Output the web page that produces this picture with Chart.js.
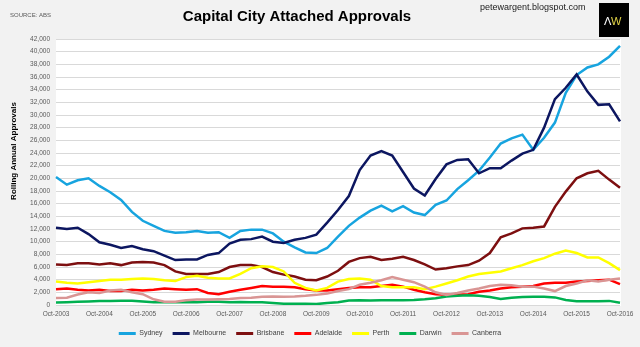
<!DOCTYPE html>
<html>
<head>
<meta charset="utf-8">
<script src="https://cdn.jsdelivr.net/npm/chart.js@4"></script>
<style>
  html, body { margin: 0; padding: 0; background: #f2f2f2; }
  #wrap { width: 640px; height: 347px; }
</style>
</head>
<body>
<div id="wrap"><canvas id="chart" width="640" height="347"></canvas></div>
<script>
// Quarterly readings, Oct-2003 to Oct-2016
const months = ['Oct', 'Jan', 'Apr', 'Jul'];
const labels = [];
for (let i = 0; i <= 52; i++) {
    const year = 2003 + Math.floor((i + 3) / 4);
    labels.push(months[i % 4] + '-' + year);
}

const sydney = [20200, 19000, 19700, 20000, 18800, 17800, 16600, 14700, 13300, 12500,
    11700, 11400, 11500, 11700, 11400, 11500, 10600, 11700, 11900, 11900,
    11300, 10000, 9100, 8300, 8200, 9000, 10800, 12500, 13800, 14900,
    15700, 14800, 15600, 14600, 14200, 15800, 16500, 18300, 19700, 21200,
    23300, 25500, 26300, 26900, 24500, 26400, 28800, 33500, 36300, 37500,
    38000, 39200, 40900];
const melbourne = [12200, 12000, 12200, 11200, 9900, 9500, 9000, 9300, 8800, 8500,
    7800, 7100, 7200, 7200, 7900, 8200, 9700, 10300, 10400, 10800,
    10000, 9800, 10300, 10600, 11100, 13000, 15000, 17200, 21300, 23600,
    24300, 23600, 21000, 18400, 17300, 19900, 22200, 22900, 23000, 20800,
    21600, 21600, 22800, 23900, 24500, 28000, 32500, 34300, 36400, 33700,
    31600, 31700, 29000];
const brisbane = [6400, 6300, 6600, 6600, 6400, 6600, 6300, 6700, 6800, 6700,
    6300, 5300, 4900, 4900, 4900, 5200, 6000, 6300, 6300, 6000,
    5200, 4800, 4500, 4000, 3900, 4500, 5400, 6800, 7400, 7600,
    7100, 7300, 7600, 7100, 6400, 5600, 5800, 6100, 6300, 7000,
    8200, 10700, 11300, 12100, 12200, 12400, 15500, 17900, 20000, 20800,
    21200, 19800, 18500];
const adelaide = [2500, 2600, 2400, 2300, 2400, 2200, 2200, 2400, 2300, 2400,
    2600, 2500, 2400, 2500, 1900, 1700, 2100, 2400, 2700, 3000,
    2900, 2900, 2800, 2500, 2300, 2300, 2500, 2700, 2800, 2800,
    3000, 3200, 2900, 2400, 2000, 1700, 1600, 1600, 1700, 2100,
    2300, 2600, 2800, 2900, 3000, 3400, 3500, 3500, 3700, 3800,
    3900, 4000, 3300];
const perth = [3700, 3500, 3400, 3600, 3800, 4000, 4000, 4100, 4200, 4100,
    3900, 3800, 4400, 4600, 4300, 4200, 4200, 4900, 5800, 6100,
    6000, 5300, 3500, 2700, 2300, 2700, 3700, 4100, 4200, 4000,
    3000, 2800, 2800, 2800, 2500, 2900, 3400, 3900, 4500, 4900,
    5100, 5300, 5800, 6300, 6900, 7400, 8100, 8600, 8200, 7500,
    7500, 6600, 5500];
const darwin = [400, 450, 500, 550, 620, 650, 680, 680, 550, 450,
    450, 450, 450, 450, 500, 500, 450, 480, 450, 420,
    300, 200, 200, 180, 150, 300, 450, 700, 750, 700,
    750, 750, 750, 800, 900, 1050, 1350, 1450, 1550, 1450,
    1250, 950, 1150, 1250, 1300, 1300, 1200, 800, 600, 600,
    600, 650, 350];
const canberra = [1100, 1150, 1650, 2000, 1900, 2300, 2400, 2000, 1700, 900,
    500, 500, 750, 850, 850, 900, 950, 1100, 1150, 1300,
    1350, 1300, 1350, 1450, 1600, 1800, 2200, 2500, 3200, 3500,
    3900, 4400, 4000, 3600, 2900, 2000, 1600, 1900, 2300, 2600,
    3000, 3200, 3100, 2900, 2900, 2600, 2200, 3000, 3400, 3900,
    3700, 4000, 4200];

const seriesNames = ['Sydney', 'Melbourne', 'Brisbane', 'Adelaide', 'Perth', 'Darwin', 'Canberra'];
const seriesData = [sydney, melbourne, brisbane, adelaide, perth, darwin, canberra];
const seriesColors = ['#17a4df', '#0c1660', '#7d0f10', '#ff0000', '#ffff00', '#00b050', '#d99594'];

const FONT = '"Liberation Sans", Arial, sans-serif';

// Fond gris, zone de tracé blanche, titres et logo
const decorations = {
    id: 'decorations',
    beforeDraw(chart) {
        const { ctx, chartArea: a } = chart;
        ctx.save();
        ctx.fillStyle = '#f2f2f2';
        ctx.fillRect(0, 0, chart.width, chart.height);
        ctx.fillStyle = '#ffffff';
        ctx.fillRect(a.left, a.top, a.right - a.left + 1, a.bottom - a.top + 1);
        ctx.restore();
    },
    afterDraw(chart) {
        const ctx = chart.ctx;
        ctx.save();
        ctx.textBaseline = 'middle';

        ctx.fillStyle = '#000000';
        ctx.font = 'bold 15px ' + FONT;
        ctx.textAlign = 'center';
        ctx.fillText('Capital City Attached Approvals', 297, 17);

        ctx.fillStyle = '#595959';
        ctx.font = '6px ' + FONT;
        ctx.textAlign = 'left';
        ctx.fillText('SOURCE: ABS', 10, 15);

        ctx.fillStyle = '#1a1a1a';
        ctx.font = '9px ' + FONT;
        ctx.fillText('petewargent.blogspot.com', 480, 8);

        // logo
        ctx.fillStyle = '#000000';
        ctx.fillRect(599, 3, 30, 34);
        ctx.font = '11px ' + FONT;
        ctx.fillStyle = '#ffffff';
        ctx.fillText('Λ', 604, 22);
        ctx.fillStyle = '#e3d548';
        ctx.fillText('W', 611, 22);

        // axis title
        ctx.translate(14, 151);
        ctx.rotate(-Math.PI / 2);
        ctx.fillStyle = '#000000';
        ctx.font = 'bold 8px ' + FONT;
        ctx.textAlign = 'center';
        ctx.fillText('Rolling Annual Approvals', 0, 0);
        ctx.restore();
    }
};

const datasets = seriesNames.map((name, i) => ({
    label: name,
    data: seriesData[i],
    borderColor: seriesColors[i],
    backgroundColor: seriesColors[i],
    borderWidth: 2.5,
    pointRadius: 0,
    tension: 0,
    fill: false,
    order: seriesNames.length - i
}));

new Chart(document.getElementById('chart'), {
    type: 'line',
    data: { labels: labels, datasets: datasets },
    plugins: [decorations],
    options: {
        responsive: false,
        animation: false,
        layout: { padding: { top: 39, right: 20, bottom: 0, left: 0 } },
        plugins: {
            tooltip: { enabled: false },
            legend: {
                position: 'bottom',
                labels: {
                    boxWidth: 17,
                    boxHeight: 3,
                    padding: 10,
                    color: '#404040',
                    font: { family: FONT, size: 7 },
                    sort: (a, b) => a.datasetIndex - b.datasetIndex,
                    generateLabels(chart) {
                        const items = Chart.defaults.plugins.legend.labels.generateLabels(chart);
                        items.forEach(it => { it.lineWidth = 0; });
                        return items;
                    }
                }
            }
        },
        scales: {
            x: {
                offset: false,
                grid: { display: false, drawTicks: false },
                border: { display: false },
                afterFit(scale) { scale.height = 15; },
                ticks: {
                    autoSkip: false,
                    maxRotation: 0,
                    padding: 5,
                    color: '#595959',
                    font: { family: FONT, size: 6.5 },
                    callback(value, index) {
                        const lab = labels[index];
                        return lab.startsWith('Oct') ? lab : null;
                    }
                }
            },
            y: {
                min: 0,
                max: 42000,
                afterFit(scale) { scale.width = 56; },
                grid: { color: '#d9d9d9', lineWidth: 1, drawTicks: false },
                border: { display: false },
                ticks: {
                    stepSize: 2000,
                    padding: 6,
                    color: '#595959',
                    font: { family: FONT, size: 6.5 },
                    callback(value) { return value.toLocaleString('en-US'); }
                }
            }
        }
    }
});
</script>
</body>
</html>
